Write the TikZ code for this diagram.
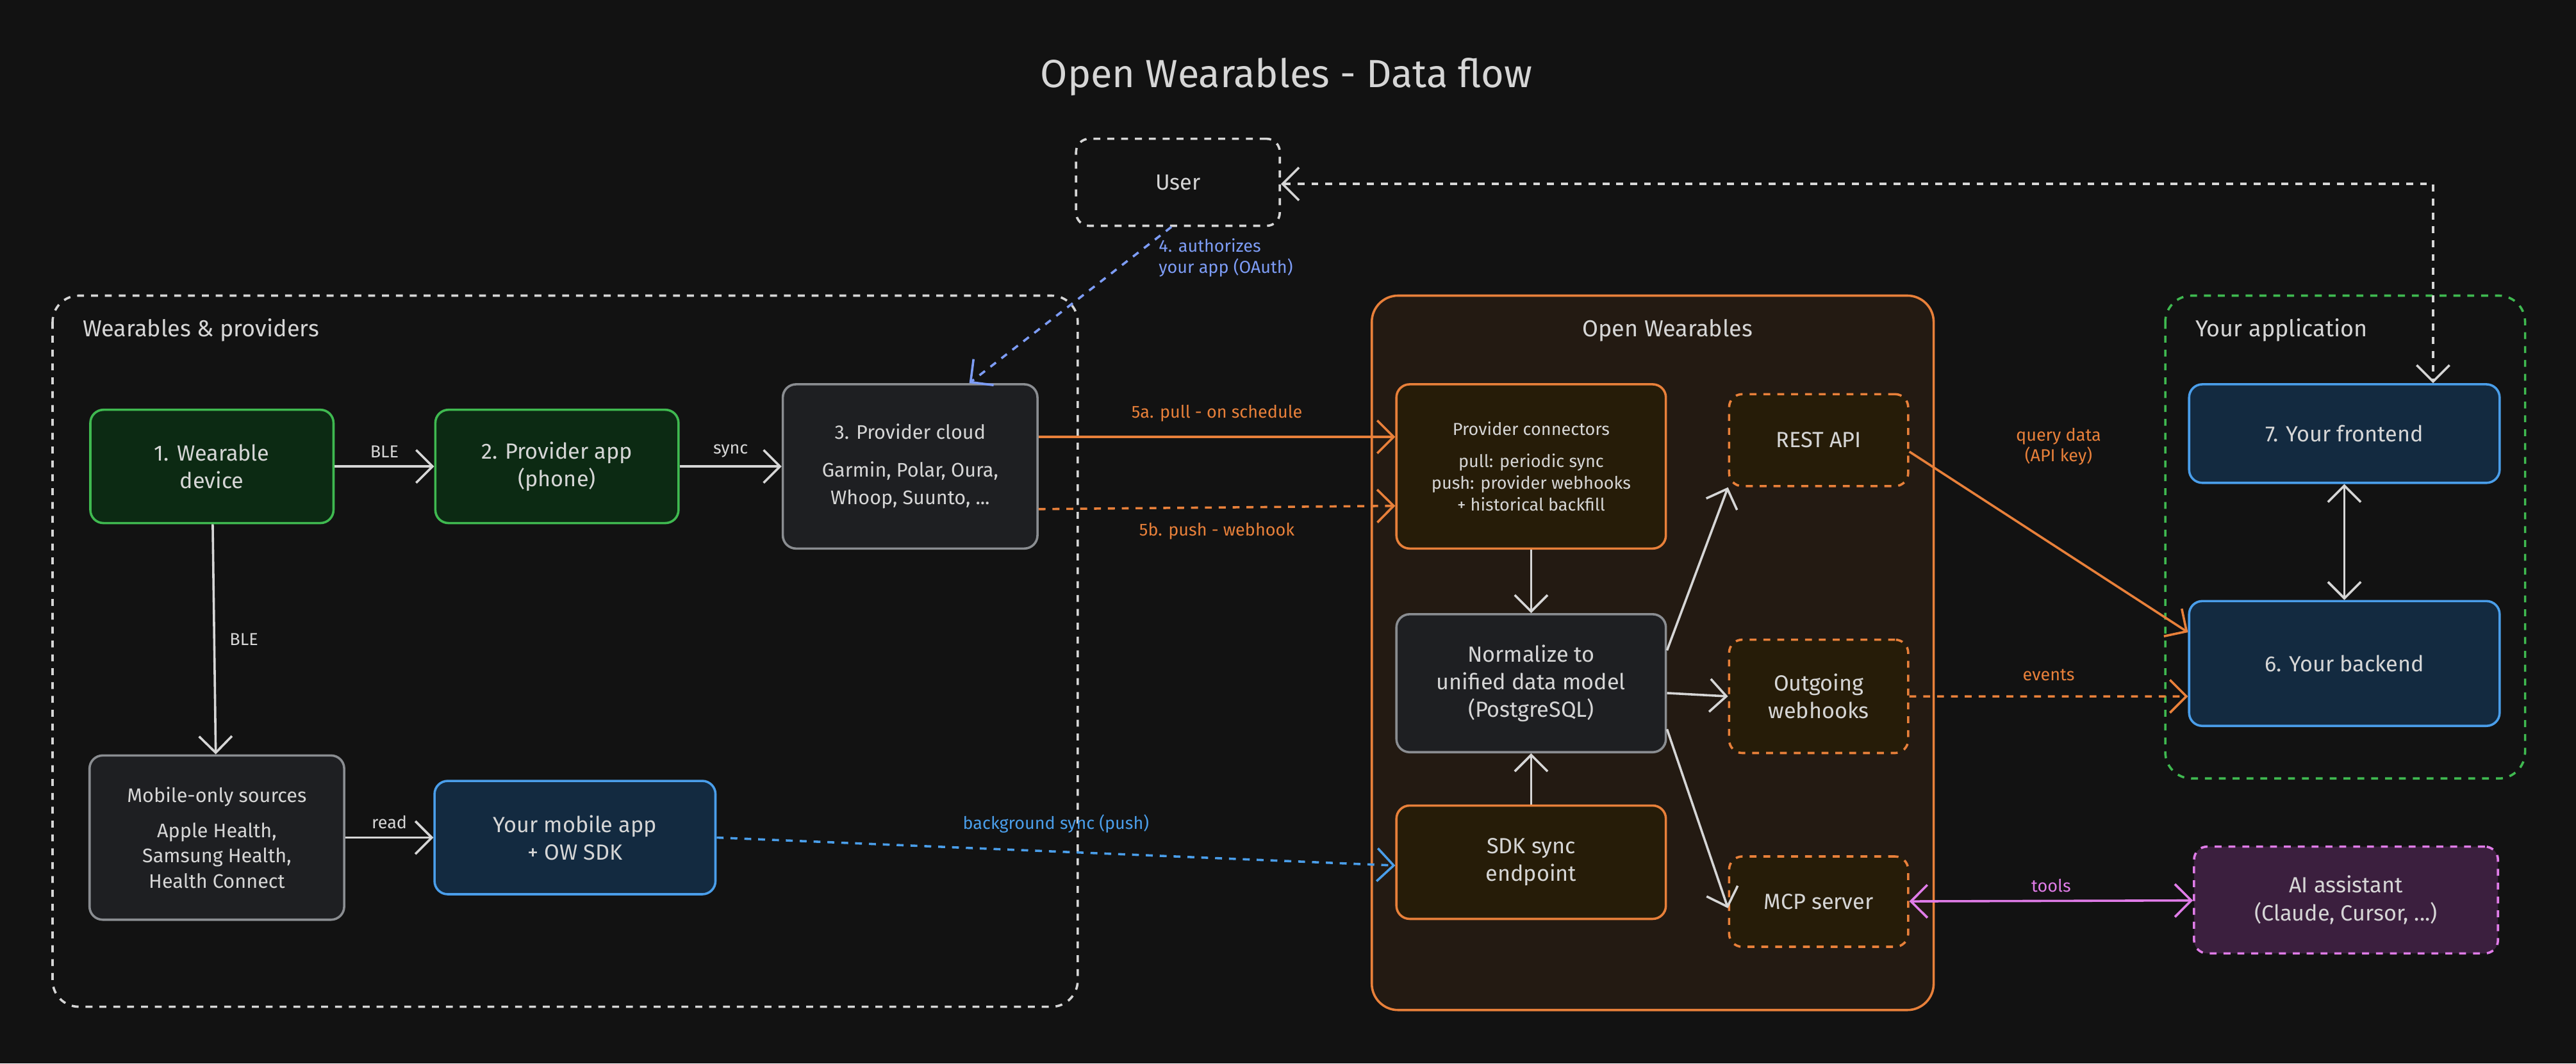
\documentclass[tikz,border=0pt]{standalone}
\usepackage{fontspec}
\setmainfont{Fira Sans}
\usepackage{tikz}
\usetikzlibrary{arrows.meta, positioning, backgrounds}

\definecolor{bg}{HTML}{121212}
\definecolor{ink}{HTML}{D6D6D6}
\definecolor{orng}{HTML}{E8803A}
\definecolor{blu}{HTML}{4A9EEA}
\definecolor{oauth}{HTML}{7D9CF5}
\definecolor{purp}{HTML}{E07CE8}
\definecolor{grn}{HTML}{3FB950}
\definecolor{grnfill}{HTML}{0C2A13}
\definecolor{blufill}{HTML}{132A40}
\definecolor{grayfill}{HTML}{1E1F22}
\definecolor{grayline}{HTML}{8A8D91}
\definecolor{orfill}{HTML}{261C08}
\definecolor{owfill}{HTML}{231A12}
\definecolor{purfill}{HTML}{3B1F3E}

\begin{document}
\begin{tikzpicture}[
		x=0.25mm, y=-0.25mm,
		line width=0.35mm,
		every node/.style={text=ink, font=\fontsize{9.5}{12}\selectfont, align=center},
		box/.style={draw, rounded corners=2mm, inner sep=1mm},
		greenbox/.style={box, draw=grn, fill=grnfill},
		bluebox/.style={box, draw=blu, fill=blufill},
		graybox/.style={box, draw=grayline, fill=grayfill},
		orbox/.style={box, draw=orng, fill=orfill},
		dashbox/.style={box, dashed, draw=orng, fill=orfill},
		group/.style={draw, dashed, rounded corners=4mm},
		lbl/.style={font=\fontsize{7.5}{9}\selectfont},
		flow/.style={-{Straight Barb[length=2.5mm]}, ink},
		both/.style={{Straight Barb[length=2.5mm]}-{Straight Barb[length=2.5mm]}}
		]

	\fill[bg] (0,0) rectangle (1568,647.5);
	\useasboundingbox (0,0) rectangle (1568,647.5);

	% Title
	\node[font=\fontsize{17}{20}\selectfont] (title) at (783,47) {Open Wearables - Data flow};

	% Groups
	\draw[group, ink] (32,180) rectangle (656,613);
	\node[anchor=west, font=\fontsize{10}{12}\selectfont] (wplabel) at (45,201) {Wearables \& providers};
	\draw[rounded corners=4mm, draw=orng, fill=owfill] (835,180) rectangle (1177,615);
	\node[font=\fontsize{10}{12}\selectfont] (owlabel) at (1015,201) {Open Wearables};
	\draw[group, grn] (1318,180) rectangle (1537,474);
	\node[anchor=west, font=\fontsize{10}{12}\selectfont] (applabel) at (1331,201) {Your application};

	% User
	\node[box, dashed, draw=ink, minimum width=31mm, minimum height=13.25mm] (user) at (717,111) {User};

	% Wearables & providers
	\node[greenbox, minimum width=37mm, minimum height=17.25mm] (wearable) at (129,284) {1. Wearable\\device};
	\node[greenbox, minimum width=37mm, minimum height=17.25mm] (papp) at (339,284) {2. Provider app\\(phone)};
	\node[graybox, minimum width=38.75mm, minimum height=25mm, font=\fontsize{8.5}{12}\selectfont] (pcloud) at (554,284) {3. Provider cloud\\[1.5mm]Garmin, Polar, Oura,\\Whoop, Suunto, ...};
	\node[graybox, minimum width=38.75mm, minimum height=25mm, font=\fontsize{8.5}{11}\selectfont] (mobile) at (132,510) {Mobile-only sources\\[1.5mm]Apple Health,\\Samsung Health,\\Health Connect};
	\node[bluebox, minimum width=42.75mm, minimum height=17.25mm] (myapp) at (350,510) {Your mobile app\\+ OW SDK};

	% Open Wearables
	\node[orbox, minimum width=41mm, minimum height=25mm, font=\fontsize{7.5}{9.5}\selectfont] (conn) at (932,284) {Provider connectors\\[1.5mm]pull: periodic sync\\push: provider webhooks\\+ historical backfill};
	\node[graybox, minimum width=41mm, minimum height=21mm] (norm) at (932,416) {Normalize to\\unified data model\\(PostgreSQL)};
	\node[orbox, minimum width=41mm, minimum height=17.25mm] (sdk) at (932,525) {SDK sync\\endpoint};
	\node[dashbox, minimum width=27.25mm, minimum height=14mm] (rest) at (1107,268) {REST API};
	\node[dashbox, minimum width=27.25mm, minimum height=17.25mm] (hooks) at (1107,424) {Outgoing\\webhooks};
	\node[dashbox, minimum width=27.25mm, minimum height=13.75mm] (mcp) at (1107,549) {MCP server};

	% Your application
	\node[bluebox, minimum width=47.25mm, minimum height=15mm] (front) at (1427,264) {7. Your frontend};
	\node[bluebox, minimum width=47.25mm, minimum height=19mm] (back) at (1427,404) {6. Your backend};
	\node[box, dashed, draw=purp, fill=purfill, minimum width=46.25mm, minimum height=16.25mm] (ai) at (1428,548) {AI assistant\\(Claude, Cursor, ...)};

	% Device side
	\draw[flow] (wearable) -- node[lbl, above] {BLE} (papp);
	\draw[flow] (papp) -- node[lbl, above] {sync} (pcloud);
	\draw[flow] (wearable) -- node[lbl, right=1mm] {BLE} (mobile);
	\draw[flow] (mobile.east |- myapp.west) -- node[lbl, above] {read} (myapp);

	% Cloud to Open Wearables
	\draw[flow, orng] ([yshift=4.5mm]pcloud.east) -- node[lbl, above=1mm, text=orng] {5a. pull - on schedule} ([yshift=4.5mm]conn.west);
	\draw[flow, orng, dashed] ([yshift=-6.5mm]pcloud.east) -- node[lbl, below=1mm, text=orng] {5b. push - webhook} ([yshift=-6mm]conn.west);
	\draw[flow, blu, dashed] (myapp.east) -- node[lbl, above=1.5mm, text=blu] {background sync (push)} ([yshift=-0.5mm]sdk.west);

	% OAuth
	\draw[flow, oauth, dashed] ([xshift=-1mm]user.south) -- (pcloud.north -| 590,0);
	\node[lbl, anchor=north west, align=left, text=oauth] (oauthlbl) at (700,140) {4. authorizes\\your app (OAuth)};
	\draw[both, ink, dashed] (user.east |- 0,112) -| (front.north -| 1481,0);

	% Inside Open Wearables
	\draw[flow] (conn) -- (norm);
	\draw[flow] (sdk) -- (norm);
	\draw[flow] ([yshift=5mm]norm.east) -- (rest.south west);
	\draw[flow] ([yshift=-1.5mm]norm.east) -- (hooks.west);
	\draw[flow] ([yshift=-7mm]norm.east) -- ([yshift=-1mm]mcp.west);

	% To your application
	\draw[flow, orng] ([yshift=-1.75mm]rest.east) -- ([yshift=4.75mm]back.west);
	\node[lbl, text=orng] (querylbl) at (1253,272) {query data\\(API key)};
	\draw[flow, orng, dashed] (hooks.east) -- node[lbl, above=1mm, text=orng] {events} ([yshift=-5mm]back.west);
	\draw[both, ink] (front) -- (back);
	\draw[both, purp] (mcp) -- node[lbl, above, text=purp] {tools} (ai);

\end{tikzpicture}
\end{document}
